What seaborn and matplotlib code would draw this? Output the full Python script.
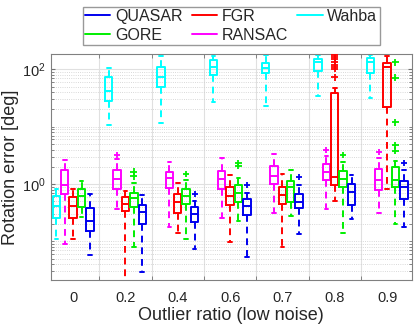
import numpy as np
import pandas as pd
import seaborn as sns
import matplotlib.pyplot as plt
from matplotlib.lines import Line2D
from matplotlib.ticker import FixedLocator, FixedFormatter, LogLocator, NullFormatter

ratios = ["0", "0.2", "0.4", "0.6", "0.7", "0.8", "0.9"]
methods = ["Wahba", "RANSAC", "FGR", "GORE", "QUASAR"]
colors = {"Wahba": "#00ffff", "RANSAC": "#ff00ff", "FGR": "#ff0000",
          "GORE": "#00ee00", "QUASAR": "#0000ee"}
legend_order = ["QUASAR", "GORE", "FGR", "RANSAC", "Wahba"]

# five-number summaries per ratio: [low whisker, q1, median, q3, high whisker]
wahba_stats = [[0.11, 0.26, 0.41, 0.61, 0.82],
               [10.7, 28.6, 41.7, 75, 107],
               [11.6, 49, 73, 110, 168],
               [27.5, 80, 110, 143, 168],
               [23.4, 87, 105, 129, 175],
               [35, 92, 134, 149, 175],
               [32, 87, 134, 160, 175]]
ransac_stats = [[0.089, 0.67, 0.96, 1.73, 2.6],
                [0.37, 0.82, 1.22, 1.78, 2.7],
                [0.175, 0.84, 1.26, 1.6, 2.46],
                [0.26, 0.82, 1.22, 1.71, 2.9],
                [0.31, 1.0, 1.4, 2.09, 3.35],
                [0.36, 1.19, 1.64, 2.24, 3.1],
                [0.31, 0.79, 1.17, 1.83, 2.8]]
fgr_stats = [[0.11, 0.26, 0.41, 0.6, 0.82],
             [0.01, 0.34, 0.45, 0.6, 0.76],
             [0.137, 0.31, 0.48, 0.68, 1.04],
             [0.098, 0.43, 0.63, 0.9, 1.44],
             [0.08, 0.45, 0.64, 0.87, 1.5],
             [0.5, 0.97, 1.31, 38.5, 48],
             [0.83, 22.5, 110, 129, 168]]
gore_stats = [[0.27, 0.39, 0.61, 0.83, 1.14],
              [0.08, 0.39, 0.57, 0.71, 1.04],
              [0.11, 0.44, 0.63, 0.82, 1.19],
              [0.23, 0.49, 0.71, 0.96, 1.26],
              [0.28, 0.49, 0.9, 1.14, 1.76],
              [0.137, 0.87, 1.22, 1.66, 2.46],
              [0.2, 0.87, 1.17, 2.0, 2.56]]
quasar_stats = [[0.058, 0.15, 0.23, 0.38, 0.66],
                [0.029, 0.2, 0.33, 0.43, 0.65],
                [0.073, 0.22, 0.3, 0.39, 0.51],
                [0.054, 0.29, 0.42, 0.55, 0.7],
                [0.134, 0.38, 0.49, 0.67, 0.96],
                [0.245, 0.43, 0.73, 1.0, 1.44],
                [0.18, 0.55, 0.87, 1.11, 1.78]]

# outliers per ratio
wahba_out = [[], [], [], [], [], [], []]
ransac_out = [[], [3.2], [], [], [], [3.9], [3.67]]
fgr_out = [[], [], [], [], [],
           [73, 102, 110, 120, 134, 149, 164, 180], []]
gore_out = [[], [1.36, 1.64], [1.5], [2.09, 2.3], [], [3.26],
            [3.83, 4.7, 12, 71, 134]]
quasar_out = [[], [], [0.67], [0.96], [1.31], [], [2.3]]

stats = {"Wahba": wahba_stats, "RANSAC": ransac_stats, "FGR": fgr_stats,
         "GORE": gore_stats, "QUASAR": quasar_stats}
outs = {"Wahba": wahba_out, "RANSAC": ransac_out, "FGR": fgr_out,
        "GORE": gore_out, "QUASAR": quasar_out}

box_rows = []
out_rows = []
for m in methods:
    for i, r in enumerate(ratios):
        for v in stats[m][i]:
            box_rows.append({"ratio": r, "method": m, "err": v})
        for v in outs[m][i]:
            out_rows.append({"ratio": r, "method": m, "err": v})
box_df = pd.DataFrame(box_rows)
out_df = pd.DataFrame(out_rows)

sns.set_style("white")
plt.rcParams["font.family"] = ["Liberation Sans", "DejaVu Sans"]
plt.rcParams["mathtext.fontset"] = "custom"
plt.rcParams["mathtext.rm"] = "Liberation Sans"
plt.rcParams["mathtext.it"] = "Liberation Sans:italic"

fig, ax = plt.subplots(figsize=(4.15, 3.25), dpi=100)
fig.subplots_adjust(left=0.122, right=0.992, bottom=0.138, top=0.834)
ax.set_yscale("log")

sns.boxplot(
    data=box_df,
    x="ratio",
    y="err",
    hue="method",
    order=ratios,
    hue_order=methods,
    palette=colors,
    fill=False,
    whis=(0, 100),
    showfliers=False,
    width=0.8,
    gap=0.12,
    linewidth=1.4,
    capwidths=0.07,
    whiskerprops={"linestyle": (0, (3.5, 2.5))},
    legend=False,
    ax=ax
)

sns.stripplot(
    data=out_df,
    x="ratio",
    y="err",
    hue="method",
    order=ratios,
    hue_order=methods,
    palette=colors,
    dodge=True,
    jitter=False,
    marker="+",
    size=5,
    linewidth=1.3,
    legend=False,
    ax=ax
)

ax.set_ylim(0.021, 186)
ax.set_xlim(-0.43, 6.47)

ax.yaxis.set_major_locator(FixedLocator([1, 100]))
ax.yaxis.set_major_formatter(FixedFormatter(["$10^0$", "$10^2$"]))
ax.yaxis.set_minor_locator(LogLocator(base=10, subs=np.arange(1, 10), numticks=20))
ax.yaxis.set_minor_formatter(NullFormatter())

ax.set_xticks(range(len(ratios)))
ax.set_xticklabels(ratios)
ax.set_xticks(np.arange(0.5, len(ratios) - 1, 1), minor=True)

ax.tick_params(axis="x", which="major", length=0, labelsize=10.5, pad=8)
ax.tick_params(axis="x", which="minor", direction="in", length=3,
               top=True, bottom=True, color="0.45")
ax.tick_params(axis="y", which="both", direction="in", left=True, right=True,
               labelsize=10.5, color="0.45")
ax.tick_params(axis="y", which="major", length=3)
ax.tick_params(axis="y", which="minor", length=2)

ax.grid(False)
ax.grid(True, axis="x", which="minor", color="0.88", linewidth=0.8)
ax.grid(True, axis="y", which="major", color="0.88", linewidth=0.8)
ax.grid(True, axis="y", which="minor", color="0.8", linestyle=":", linewidth=0.6)
ax.set_axisbelow(True)

for s in ax.spines.values():
    s.set_color("0.5")
    s.set_linewidth(0.8)

ax.set_xlabel("Outlier ratio (low noise)", fontsize=13, labelpad=1)
ax.set_ylabel("Rotation error [deg]", fontsize=13, labelpad=2)

handles = [Line2D([0], [0], color=colors[m], linewidth=1.4) for m in legend_order]
fig.legend(
    handles,
    legend_order,
    loc="center",
    bbox_to_anchor=(0.557, 0.92),
    bbox_transform=fig.transFigure,
    ncol=3,
    fontsize=11.5,
    frameon=True,
    fancybox=False,
    edgecolor="0.5",
    handlelength=1.6,
    handletextpad=0.3,
    columnspacing=0.55,
    borderpad=0.15,
    labelspacing=0.25
)

plt.savefig("out.png", dpi=100)
